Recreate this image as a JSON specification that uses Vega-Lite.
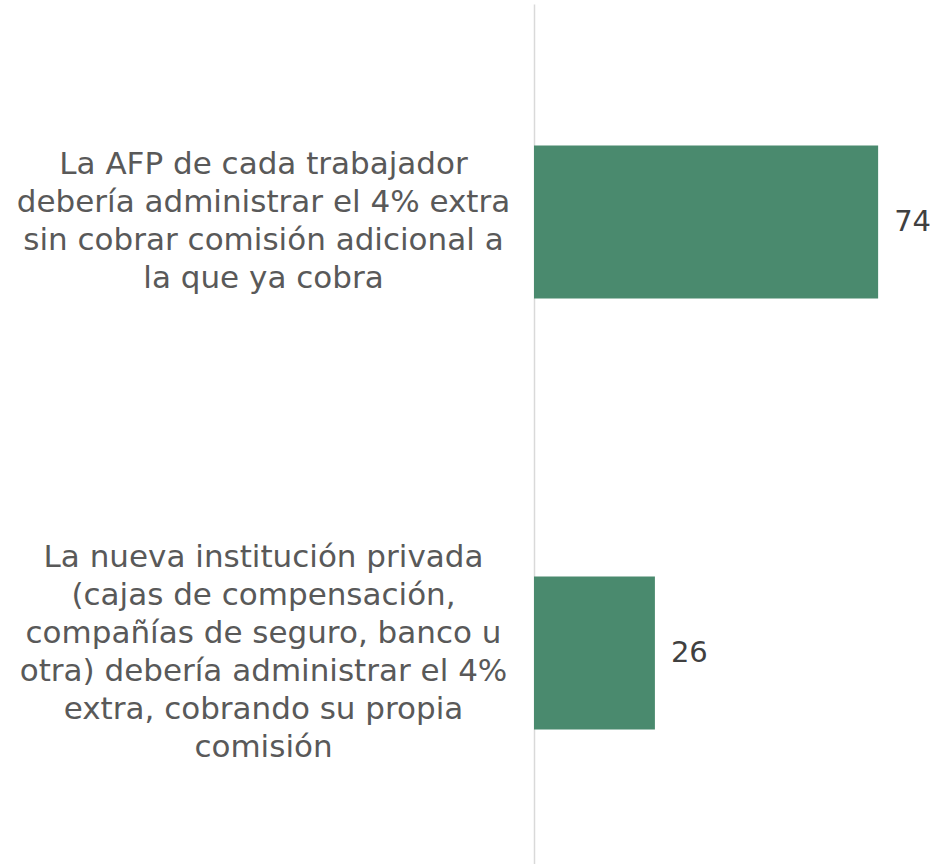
{
  "$schema": "https://vega.github.io/schema/vega-lite/v6.json",
  "autosize": {"type": "none"},
  "padding": {"left": 534, "top": 4, "right": 0, "bottom": 0},
  "width": 399,
  "height": 867,
  "background": "white",
  "config": {"view": {"stroke": null}},
  "data": {
    "values": [
      {"opcion": "La AFP de cada trabajador|debería administrar el 4% extra|sin cobrar comisión adicional a|la que ya cobra", "valor": 74},
      {"opcion": "La nueva institución privada|(cajas de compensación,|compañías de seguro, banco u|otra) debería administrar el 4%|extra, cobrando su propia|comisión", "valor": 26}
    ]
  },
  "encoding": {
    "y": {
      "field": "opcion",
      "type": "nominal",
      "sort": null,
      "scale": {"paddingInner": 0.645, "paddingOuter": 0.328},
      "axis": {
        "title": null,
        "ticks": false,
        "labelExpr": "split(datum.label, '|')",
        "labelAlign": "center",
        "labelBaseline": "middle",
        "labelOffset": {"expr": "-(length(split(datum.label, '|')) - 1) * 19"},
        "labelPadding": 271,
        "labelLimit": 0,
        "labelFont": "DejaVu Sans",
        "labelFontSize": 31,
        "labelLineHeight": 38,
        "labelColor": "#595959",
        "domainColor": "#d9d9d9",
        "domainWidth": 1.5
      }
    },
    "x": {
      "field": "valor",
      "type": "quantitative",
      "scale": {"domain": [0, 85.8], "nice": false},
      "axis": null
    }
  },
  "layer": [
    {"mark": {"type": "bar", "color": "#4a8a6e"}},
    {
      "mark": {"type": "text", "align": "left", "baseline": "middle", "dx": 16, "font": "DejaVu Sans", "fontSize": 29, "color": "#404040"},
      "encoding": {"text": {"field": "valor", "type": "quantitative"}}
    }
  ]
}
